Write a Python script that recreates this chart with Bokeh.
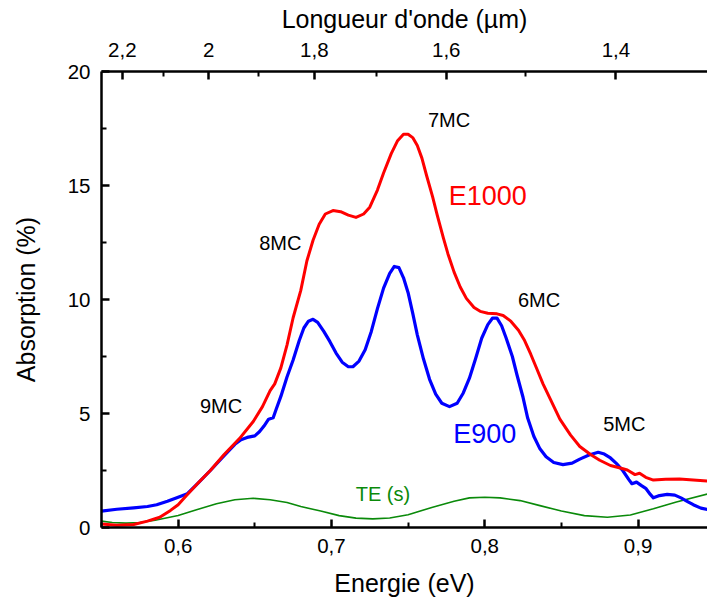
from bokeh.plotting import figure
from bokeh.models import (Range1d, LinearAxis, FixedTicker, CustomJSTickFormatter)
from bokeh.core.properties import value
from bokeh.embed import file_html
from bokeh.resources import INLINE

# ---------------- data ----------------
red_x = [0.550, 0.560, 0.571, 0.580, 0.588, 0.595, 0.600, 0.606, 0.613, 0.621, 0.630, 0.640,
         0.649, 0.655, 0.660, 0.663, 0.667, 0.671, 0.675, 0.680, 0.684, 0.688, 0.692, 0.696,
         0.701, 0.706, 0.711, 0.716, 0.721, 0.725, 0.730, 0.734, 0.739, 0.743, 0.747, 0.750,
         0.753, 0.756, 0.759, 0.762, 0.766, 0.769, 0.773, 0.776, 0.780, 0.784, 0.788, 0.793,
         0.797, 0.802, 0.808, 0.812, 0.817, 0.822, 0.826, 0.830, 0.834, 0.838, 0.843, 0.849,
         0.856, 0.862, 0.869, 0.875, 0.882, 0.889, 0.893, 0.898, 0.901, 0.905, 0.910, 0.918,
         0.927, 0.936, 0.946]
red_y = [0.15, 0.10, 0.13, 0.28, 0.45, 0.75, 1.00, 1.45, 1.95, 2.50, 3.20, 3.90,
         4.65, 5.30, 6.00, 6.30, 7.00, 8.00, 9.20, 10.40, 11.70, 12.60, 13.30, 13.75,
         13.90, 13.85, 13.70, 13.60, 13.75, 14.05, 14.80, 15.55, 16.40, 16.95, 17.25, 17.25,
         17.10, 16.75, 16.20, 15.45, 14.50, 13.70, 12.70, 12.00, 11.20, 10.55, 10.05, 9.65,
         9.48, 9.40, 9.37, 9.30, 9.05, 8.65, 8.20, 7.60, 6.95, 6.30, 5.60, 4.75,
         4.05, 3.55, 3.20, 2.95, 2.72, 2.60, 2.52, 2.32, 2.38, 2.20, 2.08, 2.12,
         2.13, 2.08, 2.03]

blue_x = [0.550, 0.560, 0.571, 0.580, 0.586, 0.593, 0.600, 0.606, 0.613, 0.621, 0.630, 0.637,
          0.641, 0.645, 0.650, 0.653, 0.656, 0.659, 0.662, 0.664, 0.667, 0.671, 0.675, 0.679,
          0.682, 0.685, 0.688, 0.691, 0.695, 0.699, 0.703, 0.707, 0.711, 0.714, 0.718, 0.722,
          0.726, 0.730, 0.734, 0.738, 0.741, 0.744, 0.747, 0.750, 0.753, 0.756, 0.760, 0.764,
          0.768, 0.772, 0.777, 0.782, 0.786, 0.790, 0.794, 0.798, 0.802, 0.805, 0.808, 0.811,
          0.814, 0.818, 0.821, 0.825, 0.828, 0.832, 0.836, 0.840, 0.845, 0.851, 0.857, 0.862,
          0.868, 0.874, 0.878, 0.882, 0.886, 0.890, 0.894, 0.896, 0.899, 0.902, 0.905, 0.908,
          0.910, 0.914, 0.919, 0.924, 0.928, 0.932, 0.936, 0.941, 0.946]
blue_y = [0.72, 0.80, 0.86, 0.92, 1.00, 1.15, 1.33, 1.48, 1.95, 2.50, 3.15, 3.65,
          3.85, 3.95, 4.02, 4.20, 4.45, 4.75, 4.81, 5.20, 5.75, 6.60, 7.35, 8.20,
          8.75, 9.05, 9.13, 9.00, 8.60, 8.15, 7.65, 7.25, 7.05, 7.05, 7.30, 7.80,
          8.60, 9.60, 10.50, 11.15, 11.45, 11.40, 10.95, 10.30, 9.40, 8.45, 7.40, 6.50,
          5.85, 5.45, 5.30, 5.45, 5.90, 6.55, 7.40, 8.30, 8.90, 9.18, 9.18, 8.85,
          8.30, 7.50, 6.70, 5.70, 4.80, 4.00, 3.45, 3.10, 2.85, 2.76, 2.82, 3.00,
          3.18, 3.30, 3.22, 3.05, 2.80, 2.50, 2.10, 1.92, 1.99, 1.85, 1.72, 1.45,
          1.30, 1.40, 1.45, 1.42, 1.30, 1.15, 1.00, 0.85, 0.78]

green_x = [0.550, 0.557, 0.566, 0.575, 0.585, 0.600, 0.612, 0.625, 0.637, 0.649, 0.660, 0.671,
           0.680, 0.693, 0.705, 0.716, 0.727, 0.738, 0.750, 0.766, 0.780, 0.790, 0.800, 0.810,
           0.823, 0.836, 0.850, 0.865, 0.880, 0.895, 0.910, 0.925, 0.946]
green_y = [0.28, 0.22, 0.19, 0.22, 0.32, 0.53, 0.78, 1.04, 1.22, 1.28, 1.22, 1.10,
           0.92, 0.72, 0.52, 0.41, 0.38, 0.42, 0.56, 0.89, 1.15, 1.30, 1.33, 1.30,
           1.18, 0.96, 0.72, 0.52, 0.45, 0.55, 0.82, 1.12, 1.48]

energy_ticks = [0.6, 0.7, 0.8, 0.9]
energy_minor = [0.55, 0.65, 0.75, 0.85]
abs_ticks = [0, 5, 10, 15, 20]
abs_minor = [2.5, 7.5, 12.5, 17.5]
wl_ticks = [2.2, 2.0, 1.8, 1.6, 1.4]
wl_minor = [2.1, 1.9, 1.7, 1.5]
HC = 1.23984  # eV*um

peak_labels = ["7MC", "8MC", "9MC", "6MC", "5MC"]
peak_x = [0.7767, 0.6666, 0.628, 0.8354, 0.891]
peak_y = [17.89, 12.46, 5.35, 9.96, 4.56]

# ---------------- figure ----------------
FONT = "Liberation Sans"
p = figure(width=707, height=605, output_backend="svg", toolbar_location=None,
           x_range=Range1d(0.55, 0.9453), y_range=Range1d(0, 20),
           x_axis_location=None, y_axis_location=None,
           min_border_left=101, min_border_right=0, min_border_top=71, min_border_bottom=78)
p.outline_line_color = None
p.xgrid.visible = False
p.ygrid.visible = False
p.background_fill_color = "white"
p.border_fill_color = "white"


def style(ax, fs_tick="20.5px", fs_title="25px"):
    ax.axis_line_width = 2.5
    ax.axis_line_color = "black"
    ax.major_tick_line_width = 2.5
    ax.minor_tick_line_width = 2
    ax.major_tick_in = 8
    ax.major_tick_out = 0
    ax.minor_tick_in = 5
    ax.minor_tick_out = 0
    ax.major_label_text_font = FONT
    ax.major_label_text_font_size = fs_tick
    ax.major_label_text_color = "black"
    ax.axis_label_text_font = FONT
    ax.axis_label_text_font_size = fs_title
    ax.axis_label_text_font_style = "normal"
    ax.axis_label_text_color = "black"


xb = LinearAxis(axis_label="Energie (eV)",
                ticker=FixedTicker(ticks=energy_ticks, minor_ticks=energy_minor),
                formatter=CustomJSTickFormatter(code="return tick.toFixed(1).replace('.', ',');"))
style(xb)
xb.major_label_standoff = 11
xb.axis_label_standoff = 13
p.add_layout(xb, "below")

yl = LinearAxis(axis_label="Absorption (%)",
                ticker=FixedTicker(ticks=abs_ticks, minor_ticks=abs_minor),
                formatter=CustomJSTickFormatter(code="return tick.toFixed(0);"))
style(yl)
yl.major_label_standoff = 11
yl.axis_label_standoff = 25
p.add_layout(yl, "left")

xt = LinearAxis(axis_label="Longueur d'onde (µm)",
                ticker=FixedTicker(ticks=[HC / w for w in wl_ticks],
                                   minor_ticks=[HC / w for w in wl_minor]),
                formatter=CustomJSTickFormatter(
                    args=dict(hc=HC),
                    code="var w = Math.round(hc / tick * 10) / 10;"
                         "if (Math.abs(w - Math.round(w)) < 1e-6) return String(Math.round(w));"
                         "return w.toFixed(1).replace('.', ',');"))
style(xt)
xt.major_label_standoff = 15
xt.axis_label_standoff = 7
p.add_layout(xt, "above")

# ---------------- curves ----------------
p.line(green_x, green_y, line_color="#0a8a0a", line_width=1.6)
p.line(blue_x, blue_y, line_color="#0000ff", line_width=3.2, line_join="round")
p.line(red_x, red_y, line_color="#ff0000", line_width=3.0, line_join="round")

# ---------------- annotations ----------------
p.text(peak_x, peak_y, text=peak_labels, text_font=value(FONT), text_font_size="20px",
       text_color="black", text_align="center", text_baseline="middle")
p.text([0.802], [14.56], text=["E1000"], text_font=value(FONT), text_font_size="27px",
       text_color="#ff0000", text_align="center", text_baseline="middle")
p.text([0.800], [4.08], text=["E900"], text_font=value(FONT), text_font_size="27px",
       text_color="#0000ff", text_align="center", text_baseline="middle")
p.text([0.7336], [1.45], text=["TE (s)"], text_font=value(FONT), text_font_size="20px",
       text_color="#0a8a0a", text_align="center", text_baseline="middle")

open("out.html", "w").write(file_html(p, INLINE))
